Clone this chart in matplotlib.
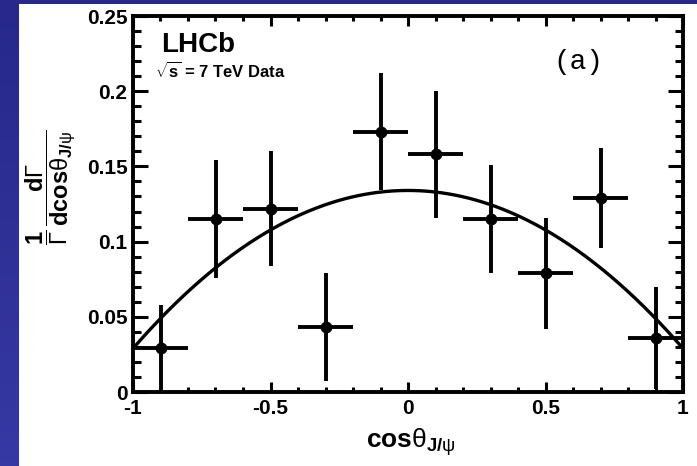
import numpy as np
import matplotlib
matplotlib.use("Agg")
import matplotlib.pyplot as plt
from matplotlib.patches import Rectangle
from matplotlib.ticker import MultipleLocator
from matplotlib.colors import LinearSegmentedColormap

# ---- data ----
cos_bins = [-0.9, -0.7, -0.5, -0.3, -0.1, 0.1, 0.3, 0.5, 0.7, 0.9]
bin_halfwidth = [0.1] * 10
dist_values = [0.029, 0.115, 0.122, 0.043, 0.173, 0.158, 0.115, 0.079, 0.129, 0.036]
dist_errors = [0.029, 0.039, 0.038, 0.036, 0.039, 0.042, 0.036, 0.037, 0.033, 0.034]
# fit: f(x) = norm * (1 + alpha * x^2)
fit_norm = 0.134
fit_alpha = -0.784
x_ticks = [-1, -0.5, 0, 0.5, 1]
x_ticklabels = ["-1", "-0.5", "0", "0.5", "1"]
y_ticks = [0, 0.05, 0.1, 0.15, 0.2, 0.25]
y_ticklabels = ["0", "0.05", "0.1", "0.15", "0.2", "0.25"]

plt.rcParams["mathtext.fontset"] = "custom"
plt.rcParams["mathtext.rm"] = "Liberation Sans"
plt.rcParams["mathtext.it"] = "Liberation Sans"
plt.rcParams["mathtext.bf"] = "Liberation Sans:bold"
plt.rcParams["mathtext.sf"] = "Liberation Sans"
plt.rcParams["font.family"] = ["Liberation Sans", "DejaVu Sans"]

W, H = 697, 466
fig = plt.figure(figsize=(W / 100, H / 100), dpi=100)

# blue slide background gradient
bg = fig.add_axes([0, 0, 1, 1], zorder=-10)
cmap = LinearSegmentedColormap.from_list("bg", ["#27288a", "#3639a3"])
bg.imshow(np.linspace(0, 1, 100).reshape(-1, 1), aspect="auto", cmap=cmap,
          extent=[0, 1, 0, 1], origin="upper")
bg.set_axis_off()

# white panel
fig.patches.append(Rectangle((19 / W, 0), (W - 19) / W, (H - 4) / H,
                             transform=fig.transFigure, facecolor="white",
                             edgecolor="none", zorder=-1))

ax = fig.add_axes([133 / W, (H - 392) / H, (683 - 133) / W, (392 - 16) / H])
ax.set_facecolor("white")

ax.errorbar(cos_bins, dist_values, xerr=bin_halfwidth, yerr=dist_errors,
            fmt="o", color="black", ms=7.5, elinewidth=2.8, capsize=0, zorder=3)

x_fit = np.linspace(-1, 1, 401)
ax.plot(x_fit, fit_norm * (1 + fit_alpha * x_fit ** 2), color="black", lw=2.4, zorder=2)

ax.set_xlim(-1, 1)
ax.set_ylim(0, 0.25)
ax.set_xticks(x_ticks)
ax.set_xticklabels(x_ticklabels)
ax.set_yticks(y_ticks)
ax.set_yticklabels(y_ticklabels)
ax.xaxis.set_minor_locator(MultipleLocator(0.1))
ax.yaxis.set_minor_locator(MultipleLocator(0.01))

for s in ax.spines.values():
    s.set_linewidth(2.8)

ax.tick_params(which="both", direction="in", top=True, right=True, width=2.2,
               labelsize=15)
ax.tick_params(axis="y", which="major", length=11, pad=4)
ax.tick_params(axis="y", which="minor", length=6)
ax.tick_params(axis="x", which="major", length=7, pad=5)
ax.tick_params(axis="x", which="minor", length=3.6)
for lab in ax.get_xticklabels() + ax.get_yticklabels():
    lab.set_fontweight("bold")

ax.set_xlabel(r"$\mathbf{cos}\theta_{\mathbf{J/}\psi}$", fontsize=19,
              va="center", ha="center")
ax.xaxis.set_label_coords(0.505, -0.133)

ax.set_ylabel(r"$\dfrac{\mathbf{1}}{\Gamma}\,\dfrac{\mathbf{d}\Gamma}{\mathbf{dcos}\theta_{\mathbf{J/}\psi}}$",
              fontsize=17, va="center", ha="center")
ax.yaxis.set_label_coords(-0.151, 0.545)

ax.text(0.052, 0.905, "LHCb", transform=ax.transAxes, fontsize=20,
        fontweight="bold", va="baseline", ha="left")
ax.text(0.04, 0.835, r"$\sqrt{\mathbf{s}}$" + " = 7 TeV Data", transform=ax.transAxes,
        fontsize=12, fontweight="bold", va="baseline", ha="left")
ax.text(0.81, 0.878, "(a)", transform=ax.transAxes, fontsize=20,
        family="Liberation Mono", va="center", ha="center")

fig.savefig("out.png", dpi=100)
